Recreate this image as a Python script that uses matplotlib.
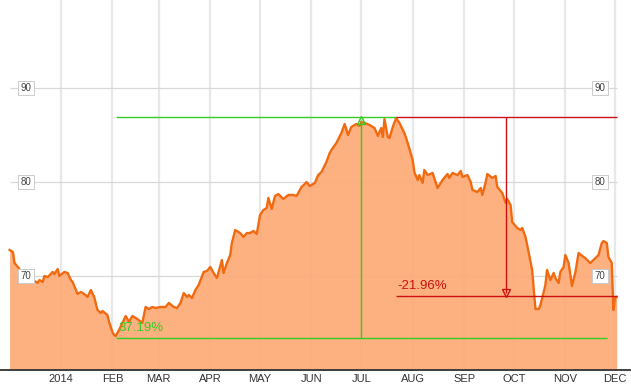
import matplotlib
matplotlib.use('Agg')
import matplotlib.pyplot as plt
import numpy as np
import pandas as pd

plt.rcParams['font.family'] = ['Liberation Sans', 'DejaVu Sans']

# ------------------------------------------------ #
# ------------------- data ----------------------- #
# ------------------------------------------------ #
base = pd.Timestamp('2014-01-01')

days = [-31, -29, -28, -26, -24, -20, -17, -14, -13, -11, -10, -8, -5, -4, -2, -1,
        2, 4, 6, 7, 8, 10, 12, 14, 16, 18, 20, 22, 24, 25, 28, 29, 31, 32, 33, 35,
        39, 41, 43, 46, 49, 51, 53, 55, 57, 60, 63, 65, 68, 70, 72, 74, 76, 77, 79,
        81, 83, 86, 88, 90, 92, 94, 97, 98, 100, 102, 103, 105, 108, 110, 112, 114,
        116, 118, 120, 122, 124, 125, 127, 129, 131, 134, 137, 140, 142, 145, 147,
        148, 150, 153, 155, 157, 160, 162, 163, 166, 169, 171, 173, 175, 178, 180,
        181, 183, 186, 189, 191, 193, 194, 195, 197, 198, 200, 202, 204, 207, 209,
        212, 213, 215, 216, 218, 219, 221, 224, 225, 227, 230, 233, 234, 236, 239,
        241, 242, 245, 247, 248, 251, 253, 254, 256, 257, 260, 262, 263, 266, 268,
        269, 271, 272, 275, 277, 278, 280, 282, 284, 286, 288, 289, 291, 292, 293,
        295, 297, 298, 300, 301, 303, 304, 306, 308, 310, 312, 315, 316, 319, 321,
        324, 326, 327, 329, 330, 332, 333, 334, 335]

price = [72.77, 72.55, 71.38, 70.96, 70.43, 69.26, 69.57, 69.26, 69.57, 69.36, 70.00,
         69.89, 70.43, 70.21, 70.74, 70.00, 70.43, 70.32, 69.57, 69.36, 68.94, 68.09,
         68.30, 68.09, 67.77, 68.51, 67.77, 66.38, 66.06, 66.28, 65.85, 65.11, 64.04,
         63.72, 63.62, 64.26, 65.74, 65.11, 65.74, 65.43, 65.00, 66.70, 66.49, 66.70,
         66.60, 66.70, 66.70, 67.13, 66.70, 66.60, 67.13, 68.19, 67.77, 67.98, 67.66,
         68.51, 69.04, 70.43, 70.53, 70.96, 70.32, 69.79, 71.70, 70.32, 71.38, 72.23,
         73.51, 74.89, 74.57, 74.15, 74.57, 74.57, 74.79, 74.47, 76.49, 77.02, 77.23,
         78.30, 77.13, 78.51, 78.72, 78.19, 78.62, 78.62, 78.51, 79.47, 79.79, 80.00,
         79.57, 79.89, 80.74, 81.06, 82.13, 83.09, 83.40, 84.15, 85.21, 86.17, 85.00,
         85.85, 86.17, 85.96, 86.38, 86.28, 86.06, 85.74, 84.89, 85.74, 84.79, 86.70,
         84.79, 84.68, 85.85, 86.81, 86.28, 85.21, 84.15, 82.34, 81.06, 80.21, 80.74,
         79.89, 81.28, 80.74, 80.96, 80.43, 79.36, 80.21, 80.85, 80.43, 80.96, 80.74,
         81.17, 80.53, 80.74, 80.00, 79.15, 78.94, 79.36, 78.62, 80.00, 80.85, 80.43,
         80.64, 79.47, 78.83, 77.77, 78.19, 77.55, 75.74, 75.11, 74.89, 75.11, 74.15,
         72.45, 70.64, 66.49, 66.49, 66.91, 68.30, 69.04, 70.64, 69.57, 70.32, 69.79,
         69.26, 70.43, 70.96, 72.23, 71.38, 68.94, 70.32, 72.45, 72.02, 71.91, 71.38,
         71.70, 72.23, 73.51, 73.72, 73.51, 72.02, 71.38, 66.38, 67.66, 67.77]

month_labels = ['2014', 'FEB', 'MAR', 'APR', 'MAY', 'JUN', 'JUL', 'AUG', 'SEP', 'OCT', 'NOV', 'DEC']
y_labels = [70, 80, 90]

# swing annotations
low_day, low_val = 33, 63.40
high_day, high_val = 181, 86.91
peak_day = 202
drop_day, drop_val = 268, 67.87
rise_text = '37.19%'
drop_text = '-21.96%'

dates = [base + pd.Timedelta(days=d) for d in days]
months = [pd.Timestamp(2014, m, 1) for m in range(1, 13)]

# ------------------------------------------------ #
# ------------------- plot ----------------------- #
# ------------------------------------------------ #
fig = plt.figure(figsize=(6.31, 3.87), dpi=100)
ax = fig.add_axes([0, 17 / 387, 1, 370 / 387])

x0 = base + pd.Timedelta(days=-36.77)
x1 = base + pd.Timedelta(days=343.6)
ax.set_xlim(x0, x1)
ax.set_ylim(60, 99.36)

# vertical month grid
for m in months:
  ax.axvline(m, color='#e8e8e8', linewidth=1.6, zorder=0)
# horizontal grid
ax.hlines(y_labels, dates[0], dates[-1], color='#d8d8d8', linewidth=0.9, zorder=0)

ax.fill_between(dates, price, 60, color='#fdab78', alpha=0.93, linewidth=0, zorder=1)
ax.plot(dates, price, color='#f26a10', linewidth=1.7, zorder=2)

# boxed y labels
for v in y_labels:
  for xd in (-21, 325):
    ax.text(base + pd.Timedelta(days=xd), v, str(v), fontsize=7, color='#444444',
            ha='center', va='center', zorder=5,
            bbox=dict(boxstyle='square,pad=0.25', fc='white', ec='#cccccc', lw=0.7))

green = '#33cc22'
red = '#cc1111'
d = lambda n: base + pd.Timedelta(days=n)

# rise: low -> high
ax.hlines(high_val, d(low_day), d(peak_day), color=green, linewidth=1.0, zorder=3)
ax.hlines(low_val, d(low_day), d(329), color=green, linewidth=1.0, zorder=3)
ax.vlines(d(high_day), low_val, high_val - 0.3, color=green, linewidth=1.0, zorder=3)
ax.plot([d(high_day)], [high_val - 0.35], marker='^', ms=6, mfc='none', mec=green, mew=1.0, zorder=4)
ax.text(d(low_day + 1.5), low_val + 0.4, rise_text, color=green, fontsize=9.5, ha='left', va='bottom', zorder=4)

# drop: peak -> trough
ax.hlines(high_val, d(peak_day), d(335), color=red, linewidth=1.0, zorder=3)
ax.hlines(drop_val, d(peak_day), d(335), color=red, linewidth=1.0, zorder=3)
ax.vlines(d(drop_day), drop_val + 0.3, high_val, color=red, linewidth=1.0, zorder=3)
ax.plot([d(drop_day)], [drop_val + 0.35], marker='v', ms=6, mfc='none', mec=red, mew=1.0, zorder=4)
ax.text(d(peak_day + 1), drop_val + 0.4, drop_text, color=red, fontsize=9.5, ha='left', va='bottom', zorder=4)

ax.set_xticks(months)
ax.set_xticklabels(month_labels)
ax.tick_params(axis='x', length=0, pad=3, labelsize=8, labelcolor='#333333')
ax.set_yticks([])
for s in ('top', 'left', 'right'):
  ax.spines[s].set_visible(False)
ax.spines['bottom'].set_color('#333333')
ax.spines['bottom'].set_linewidth(1.3)

fig.savefig('out.png', dpi=100)
